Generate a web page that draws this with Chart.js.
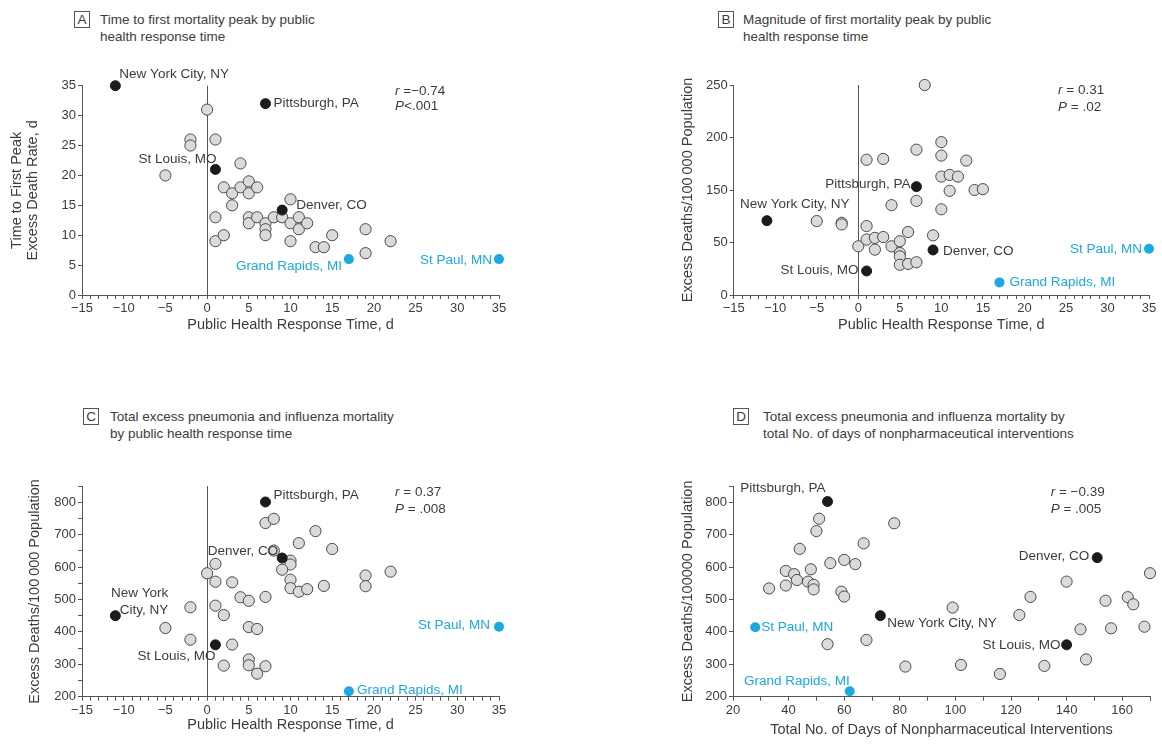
<!DOCTYPE html>
<html>
<head>
<meta charset="utf-8">
<script src="https://cdn.jsdelivr.net/npm/chart.js@4.4.1/dist/chart.umd.min.js"></script>
<style>
body{margin:0;background:#fff;width:1162px;height:744px;position:relative;overflow:hidden;font-family:"Liberation Sans",Arial,sans-serif;color:#3c3c3c}
canvas{position:absolute}
.ttl{position:absolute;font-size:13.5px;line-height:17px;white-space:nowrap}
.ttl b{position:absolute;left:0;top:0;width:14px;height:15px;border:1px solid #555;font-weight:normal;text-align:center;line-height:15px;font-size:13.5px}
</style>
</head>
<body>

<div class="ttl" style="left:74px;top:11px"><b>A</b><div style="margin-left:26px">Time to first mortality peak by public<br>health response time</div></div>
<div class="ttl" style="left:718px;top:11px"><b>B</b><div style="margin-left:25px">Magnitude of first mortality peak by public<br>health response time</div></div>
<div class="ttl" style="left:83px;top:408px"><b>C</b><div style="margin-left:27px">Total excess pneumonia and influenza mortality<br>by public health response time</div></div>
<div class="ttl" style="left:733px;top:408px"><b>D</b><div style="margin-left:30px">Total excess pneumonia and influenza mortality by<br>total No. of days of nonpharmaceutical interventions</div></div>

<canvas id="chartA" width="520" height="285" style="left:0;top:55px"></canvas>
<canvas id="chartB" width="502" height="285" style="left:660px;top:55px"></canvas>
<canvas id="chartC" width="520" height="289" style="left:0;top:455px"></canvas>
<canvas id="chartD" width="502" height="289" style="left:660px;top:455px"></canvas>

<script>
// highlighted cities, same order in every panel
const blackNames = ["New York City, NY", "Pittsburgh, PA", "St Louis, MO", "Denver, CO"];
const blueNames = ["Grand Rapids, MI", "St Paul, MN"];

// A: time to first peak (d) vs response time (d)
const aOtherX = [0,-2,-2,1,4,-5,2,3,4,5,5,6,3,1,10,5,5,6,7,7,7,8,9,10,11,11,12,1,2,10,13,14,15,19,19,22];
const aOtherY = [31,26,25,26,22,20,18,17,18,19,17,18,15,13,16,13,12,13,12,11,10,13,13,12,13,11,12,9,10,9,8,8,10,11,7,9];
const aBlackX = [-11, 7, 1, 9];
const aBlackY = [35, 32, 21, 14.2];
const aBlueX = [17, 35];
const aBlueY = [6, 6];

// B: magnitude of first peak vs response time
const bOtherX = [8,1,3,7,10,10,13,10,11,12,14,15,11,4,7,10,-5,-2,-2,1,0,1,2,3,2,4,5,6,9,5,5,5,6,7];
const bOtherY = [250,161,162,173,182,166,160,141,143,141,125,126,124,107,112,102,88,86,84,82,58,66,68,69,54,58,64,75,71,50,46,36,37,39];
const bBlackX = [-11, 7, 1, 9];
const bBlackY = [88.5, 129, 28.6, 53.6];
const bBlueX = [17, 35];
const bBlueY = [15, 55];
const bTickValues = [0, 62.5, 125, 187.5, 250];
const bTickLabels = ["0", "50", "150", "200", "250"];

// C: total excess mortality vs response time
const cOtherX = [7,8,13,11,15,8,10,10,9,1,0,1,3,10,10,11,12,14,19,19,22,4,5,7,-2,1,2,-5,5,6,-2,3,5,2,5,7,6];
const cOtherY = [736,749,711,674,656,651,620,608,592,610,581,555,553,561,535,524,532,542,574,541,586,507,496,508,476,481,452,412,415,409,376,361,315,296,297,294,271];
const cBlackX = [-11, 7, 1, 9];
const cBlackY = [450, 801, 360, 628];
const cBlueX = [17, 35];
const cBlueY = [217, 416];

// D: total excess mortality vs days of interventions
const dOtherX = [51,50,44,67,78,39,42,43,48,47,49,49,33,39,55,60,64,59,60,54,68,82,99,102,116,123,127,132,140,145,147,154,156,162,164,168,170];
const dOtherY = [749,711,656,673,735,588,578,560,593,555,545,531,534,543,612,622,609,524,509,362,375,293,475,298,270,452,508,295,555,408,315,496,411,507,485,416,581];
const dBlackX = [73, 54, 140, 151];
const dBlackY = [450, 802, 360, 629];
const dBlueX = [62, 28];
const dBlueY = [217, 414];

const TXT = "#3c3c3c";
const AXIS = "#555";
const BLUE = "#1ca8e2";
const FONT = '"Liberation Sans", Arial, sans-serif';

function pts(xs, ys) {
  return xs.map((x, i) => ({x: x, y: ys[i]}));
}

function minus(v) {
  return String(v).replace("-", "\u2212");
}

// draws city names next to the highlighted dots and the r / P text
const annotatePlugin = {
  id: "annotate",
  afterDatasetsDraw(chart, args, opts) {
    const ctx = chart.ctx;
    const xs = chart.scales.x, ys = chart.scales.y;
    ctx.save();
    ctx.font = "13.5px " + FONT;
    ctx.textBaseline = "middle";
    opts.labels.forEach(l => {
      const px = xs.getPixelForValue(l.x) + l.dx;
      const py = ys.getPixelForValue(l.y) + l.dy;
      ctx.fillStyle = l.color;
      ctx.textAlign = l.align;
      l.text.split("\n").forEach((t, i) => ctx.fillText(t, px, py + i * 16.7));
    });
    ctx.textAlign = "left";
    ctx.fillStyle = TXT;
    opts.stats.forEach(s => {
      ctx.font = "italic 13.5px " + FONT;
      ctx.fillText(s.sym, s.x, s.y);
      const w = ctx.measureText(s.sym).width;
      ctx.font = "13.5px " + FONT;
      ctx.fillText(s.rest, s.x + w, s.y);
    });
    ctx.restore();
  }
};

function makeLabels(bx, by, ux, uy, offs, names) {
  const out = [];
  blackNames.forEach((n, i) => {
    const o = offs[i];
    out.push({x: bx[i], y: by[i], text: names && names[i] ? names[i] : n, dx: o[0], dy: o[1], align: o[2], color: TXT});
  });
  blueNames.forEach((n, i) => {
    const o = offs[4 + i];
    out.push({x: ux[i], y: uy[i], text: n, dx: o[0], dy: o[1], align: o[2], color: BLUE});
  });
  return out;
}

function makePanel(id, p) {
  return new Chart(document.getElementById(id), {
    type: "scatter",
    data: {
      datasets: [
        {data: pts(p.blueX, p.blueY), pointRadius: 5, backgroundColor: BLUE, borderColor: BLUE, borderWidth: 0, clip: false},
        {data: pts(p.blackX, p.blackY), pointRadius: 5, backgroundColor: "#1b1b1b", borderColor: "#1b1b1b", borderWidth: 1, clip: false},
        {data: pts(p.otherX, p.otherY), pointRadius: 5.6, backgroundColor: "#dadada", borderColor: "#4a4a4a", borderWidth: 1, clip: false}
      ]
    },
    options: {
      responsive: false,
      animation: false,
      events: [],
      layout: {padding: {top: p.padTop, right: p.padRight, left: 0, bottom: 0}},
      plugins: {
        legend: {display: false},
        tooltip: {enabled: false},
        annotate: {labels: p.labels, stats: p.stats}
      },
      scales: {
        x: {
          type: "linear",
          min: p.xMin, max: p.xMax,
          border: {display: true, color: AXIS, width: 1},
          grid: {
            drawOnChartArea: true,
            color: c => (p.zeroLine && c.tick && c.tick.value === 0) ? AXIS : "rgba(0,0,0,0)",
            tickColor: AXIS, tickLength: 4, lineWidth: 1
          },
          ticks: {
            stepSize: p.xStep, autoSkip: false, maxRotation: 0, padding: 2,
            color: TXT, font: {family: FONT, size: 13},
            callback: v => (v % p.xLabelEvery === 0) ? minus(v) : ""
          },
          title: {display: true, text: p.xTitle, color: TXT, font: {family: FONT, size: 14.5, lineHeight: 1.15}, padding: {top: 0, bottom: p.xTitlePad}},
          afterFit: s => { s.height = p.xH; }
        },
        y: {
          type: "linear",
          min: p.yMin, max: p.yMax,
          border: {display: true, color: AXIS, width: 1},
          grid: {drawOnChartArea: false, tickColor: AXIS, tickLength: 4},
          afterBuildTicks: p.yTicks ? (s => { s.ticks = p.yTicks.map(v => ({value: v})); }) : undefined,
          ticks: {
            stepSize: p.yStep, autoSkip: false, padding: 2,
            color: TXT, font: {family: FONT, size: 13},
            callback: p.yLabel
          },
          title: {display: true, text: p.yTitle, color: TXT, font: {family: FONT, size: 14.5, lineHeight: 1.1}, padding: {top: p.yTitlePad, bottom: 0}},
          afterFit: s => { s.width = p.yW; }
        }
      }
    },
    plugins: [annotatePlugin]
  });
}

makePanel("chartA", {
  otherX: aOtherX, otherY: aOtherY, blackX: aBlackX, blackY: aBlackY, blueX: aBlueX, blueY: aBlueY,
  xMin: -15, xMax: 35, xStep: 1, xLabelEvery: 5, zeroLine: true,
  yMin: 0, yMax: 35, yStep: 5, yLabel: v => v,
  xTitle: "Public Health Response Time, d", yTitle: ["Time to First Peak", "Excess Death Rate, d"],
  padTop: 30.7, padRight: 21, xH: 45, yW: 82, xTitlePad: 6.6, yTitlePad: 9.3,
  labels: makeLabels(aBlackX, aBlackY, aBlueX, aBlueY,
    [[4, -11, "left"], [8, 0, "left"], [1, -10, "right"], [14, -5, "left"], [-7, 7, "right"], [-7, 1, "right"]]),
  stats: [{sym: "r", rest: " =\u22120.74", x: 395, y: 36.7}, {sym: "P", rest: "<.001", x: 395, y: 51.7}]
});

makePanel("chartB", {
  otherX: bOtherX, otherY: bOtherY, blackX: bBlackX, blackY: bBlackY, blueX: bBlueX, blueY: bBlueY,
  xMin: -15, xMax: 35, xStep: 1, xLabelEvery: 5, zeroLine: true,
  yMin: 0, yMax: 250, yTicks: bTickValues, yLabel: (v, i) => bTickLabels[i],
  xTitle: "Public Health Response Time, d", yTitle: "Excess Deaths/100\u2009000 Population",
  padTop: 30, padRight: 13, xH: 45, yW: 73.7, xTitlePad: 6.6, yTitlePad: 20.3,
  labels: makeLabels(bBlackX, bBlackY, bBlueX, bBlueY,
    [[-27, -16, "left"], [-6, -2, "right"], [-8, -1, "right"], [10, 1, "left"], [10, 0, "left"], [-7, 0, "right"]]),
  stats: [{sym: "r", rest: " = 0.31", x: 398, y: 35.7}, {sym: "P", rest: " = .02", x: 398, y: 52.3}]
});

makePanel("chartC", {
  otherX: cOtherX, otherY: cOtherY, blackX: cBlackX, blackY: cBlackY, blueX: cBlueX, blueY: cBlueY,
  xMin: -15, xMax: 35, xStep: 1, xLabelEvery: 5, zeroLine: true,
  yMin: 200, yMax: 850, yStep: 50, yLabel: v => (v % 100 === 0 ? v : ""),
  xTitle: "Public Health Response Time, d", yTitle: "Excess Deaths/100\u2009000 Population",
  padTop: 31.1, padRight: 21, xH: 47.3, yW: 82, xTitlePad: 10.5, yTitlePad: 27.3,
  labels: makeLabels(cBlackX, cBlackY, cBlueX, cBlueY,
    [[53, -22, "right"], [8, -7, "left"], [0, 11, "right"], [-4, -7, "right"], [8, -1, "left"], [-9, -1, "right"]],
    ["New York\nCity, NY"]),
  stats: [{sym: "r", rest: " = 0.37", x: 395, y: 37.7}, {sym: "P", rest: " = .008", x: 395, y: 54}]
});

makePanel("chartD", {
  otherX: dOtherX, otherY: dOtherY, blackX: dBlackX, blackY: dBlackY, blueX: dBlueX, blueY: dBlueY,
  xMin: 20, xMax: 170, xStep: 10, xLabelEvery: 20, zeroLine: false,
  yMin: 200, yMax: 850, yStep: 100, yLabel: v => (v % 100 === 0 ? v : ""),
  xTitle: "Total No. of Days of Nonpharmaceutical Interventions", yTitle: "Excess Deaths/100000 Population",
  padTop: 31, padRight: 12, xH: 47.3, yW: 73, xTitlePad: 5.6, yTitlePad: 20.3,
  labels: makeLabels(dBlackX, dBlackY, dBlueX, dBlueY,
    [[7, 8, "left"], [-2, -13, "right"], [-6, 0, "right"], [-8, -1, "right"], [0, -10, "right"], [6, 0, "left"]]),
  stats: [{sym: "r", rest: " = \u22120.39", x: 390.7, y: 37}, {sym: "P", rest: " = .005", x: 390.7, y: 54}]
});
</script>
</body>
</html>
